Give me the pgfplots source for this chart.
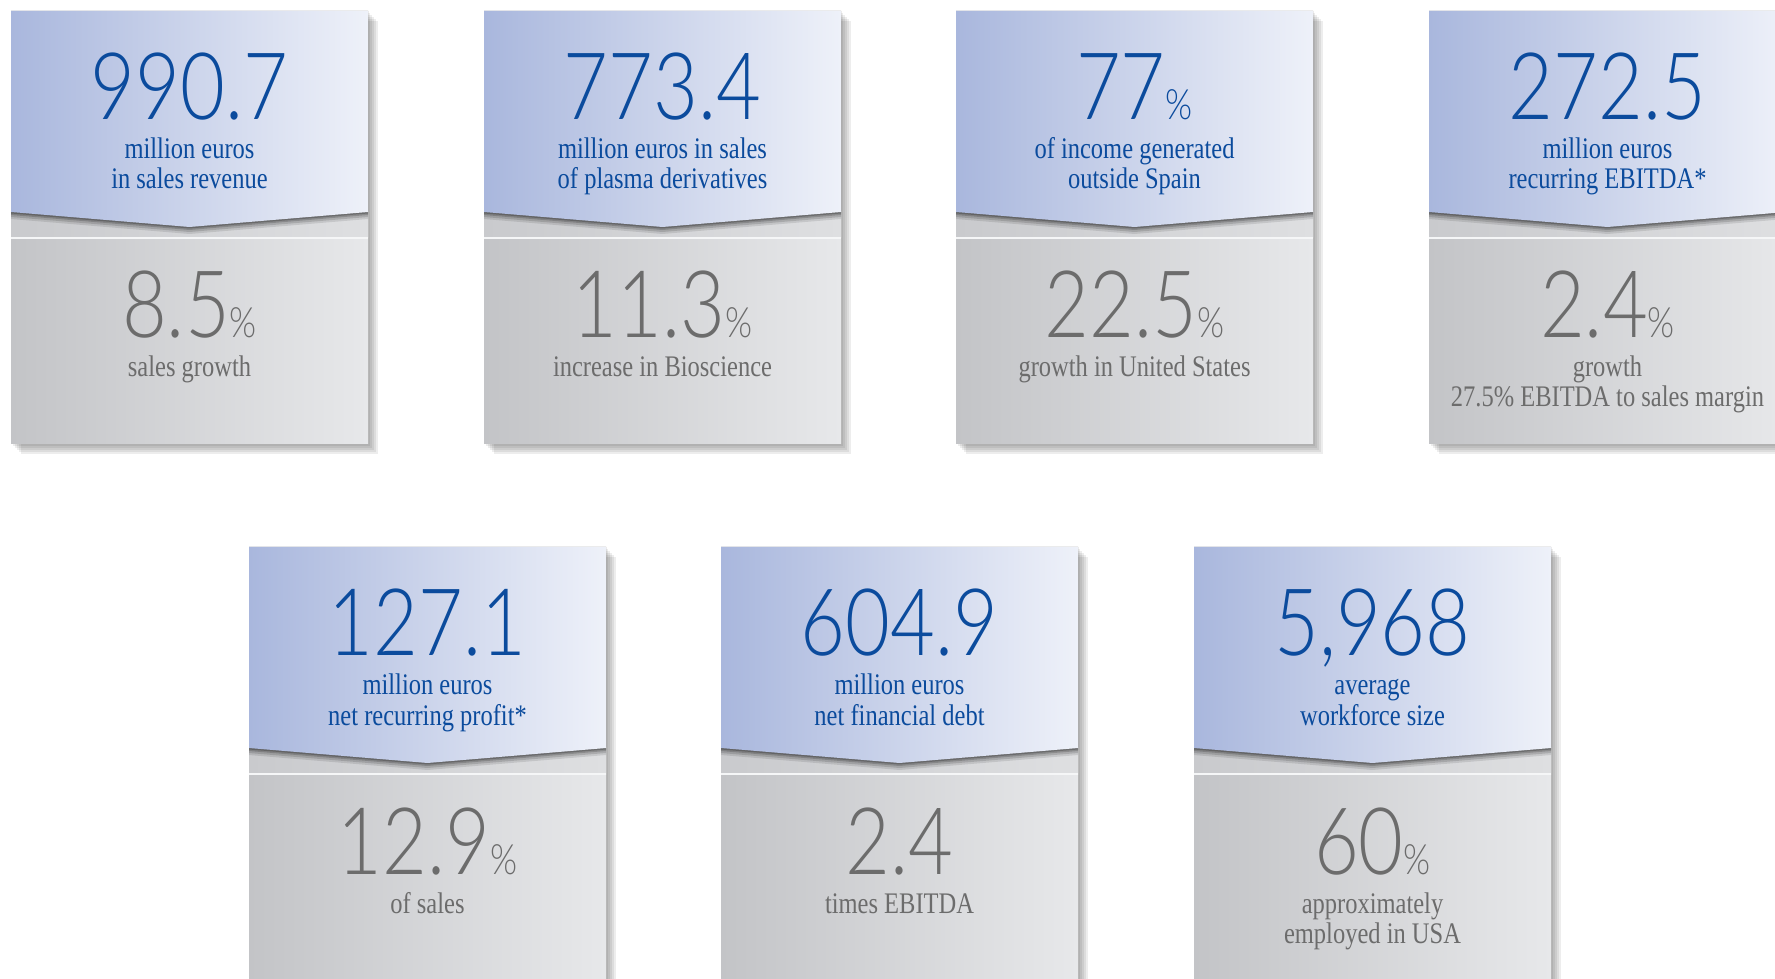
\documentclass[border=0pt]{standalone}
\usepackage{graphicx}
\usepackage{pgfplots}
\pgfplotsset{compat=1.18}
\usepackage{fontspec}
\setmainfont{Liberation Serif}
\newfontfamily\numfont{Lato Light}

\definecolor{blueL}{HTML}{A9B7DD}
\definecolor{blueR}{HTML}{EEF1F9}
\definecolor{grayL}{HTML}{C3C4C7}
\definecolor{grayR}{HTML}{E7E8EA}
\definecolor{bandL}{HTML}{C9CACD}
\definecolor{bandR}{HTML}{DEDFE1}
\definecolor{blueT}{HTML}{0B4B9D}
\definecolor{grayT}{HTML}{6C6C6C}

\newcommand\pc{{\fontsize{11.9pt}{12pt}\selectfont\%}}
\newcommand\bignum[1]{{\numfont\fontsize{26.5pt}{27pt}\selectfont\scalebox{0.83}[1]{#1}}}
\newcommand\sertext{\fontsize{8.5pt}{10pt}\selectfont}

% #1 left, #2 top, #3 blue number, #4/#5 blue lines, #6 grey number, #7/#8 grey lines
\newcommand\card[8]{%
  \pgfmathsetmacro\cL{#1}\pgfmathsetmacro\cR{#1+357}\pgfmathsetmacro\cC{#1+178.5}%
  \pgfmathsetmacro\cT{#2}\pgfmathsetmacro\cE{#2+201}\pgfmathsetmacro\cP{#2+216}%
  \pgfmathsetmacro\cS{#2+227}\pgfmathsetmacro\cB{#2+433}%
  \foreach \k in {2,4,6,8,10}{%
    \pgfmathsetmacro\sL{\cL+\k}\pgfmathsetmacro\sR{\cR+\k}%
    \pgfmathsetmacro\sT{\cT+\k}\pgfmathsetmacro\sB{\cB+\k}%
    \edef\x{\noexpand\addplot[draw=none, fill=black, fill opacity=0.07]
      coordinates {(\sL,\sT) (\sR,\sT) (\sR,\sB) (\sL,\sB)};}\x
  }%
  \edef\x{%
    \noexpand\addplot[draw=none, left color=grayL, right color=grayR]
      coordinates {(\cL,\cE) (\cR,\cE) (\cR,\cB) (\cL,\cB)};
    \noexpand\addplot[draw=none, left color=bandL, right color=bandR]
      coordinates {(\cL,\cE) (\cR,\cE) (\cR,\cS) (\cL,\cS)};
    \noexpand\addplot[draw=white!60!grayR, line width=0.3pt]
      coordinates {(\cL,\cS) (\cR,\cS)};
  }\x
  \foreach \k/\o in {7/0.10,5/0.14,3/0.18,1.5/0.22}{%
    \pgfmathsetmacro\sE{\cE+\k}\pgfmathsetmacro\sP{\cP+\k}%
    \edef\x{\noexpand\addplot[draw=none, fill=black, fill opacity=\o]
      coordinates {(\cL,\cT) (\cR,\cT) (\cR,\sE) (\cC,\sP) (\cL,\sE)};}\x
  }%
  \pgfmathsetmacro\yA{#2+109}\pgfmathsetmacro\yB{#2+148}\pgfmathsetmacro\yBB{#2+178}%
  \pgfmathsetmacro\yC{#2+327}\pgfmathsetmacro\yD{#2+366}\pgfmathsetmacro\yDD{#2+396}%
  \edef\x{%
    \noexpand\addplot[draw=none, left color=blueL, right color=blueR]
      coordinates {(\cL,\cT) (\cR,\cT) (\cR,\cE) (\cC,\cP) (\cL,\cE)};
    \noexpand\node[anchor=base, inner sep=0pt, text=blueT] at (axis cs:\cC,\yA) {\unexpanded{\bignum{#3}}};
    \noexpand\node[anchor=base, inner sep=0pt, text=blueT, xscale=0.82, transform shape] at (axis cs:\cC,\yB) {\unexpanded{\sertext #4}};
    \noexpand\node[anchor=base, inner sep=0pt, text=blueT, xscale=0.82, transform shape] at (axis cs:\cC,\yBB) {\unexpanded{\sertext #5}};
    \noexpand\node[anchor=base, inner sep=0pt, text=grayT] at (axis cs:\cC,\yC) {\unexpanded{\bignum{#6}}};
    \noexpand\node[anchor=base, inner sep=0pt, text=grayT, xscale=0.82, transform shape] at (axis cs:\cC,\yD) {\unexpanded{\sertext #7}};
    \noexpand\node[anchor=base, inner sep=0pt, text=grayT, xscale=0.82, transform shape] at (axis cs:\cC,\yDD) {\unexpanded{\sertext #8}};
  }\x
}

\begin{document}
\begin{tikzpicture}
\begin{axis}[
    width=17.75cm, height=9.79cm, scale only axis,
    xmin=0, xmax=1775, ymin=0, ymax=979, y dir=reverse,
    hide axis, clip=true
]
\card{11}{11}{990.7}{million euros}{in sales revenue}{8.5\pc}{sales growth}{}
\card{484}{11}{773.4}{million euros in sales}{of plasma derivatives}{11.3\pc}{increase in Bioscience}{}
\card{956}{11}{77\pc}{of income generated}{outside Spain}{22.5\pc}{growth in United States}{}
\card{1429}{11}{272.5}{million euros}{recurring EBITDA*}{2.4\pc}{growth}{27.5\% EBITDA to sales margin}
\card{249}{547}{127.1}{million euros}{net recurring profit*}{12.9\pc}{of sales}{}
\card{721}{547}{604.9}{million euros}{net financial debt}{2.4}{times EBITDA}{}
\card{1194}{547}{5,968}{average}{workforce size}{60\pc}{approximately}{employed in USA}
\coordinate (sw) at (rel axis cs:0,0);
\coordinate (ne) at (rel axis cs:1,1);
\end{axis}
\pgfresetboundingbox
\path[use as bounding box] (sw) rectangle (ne);
\end{tikzpicture}
\end{document}
